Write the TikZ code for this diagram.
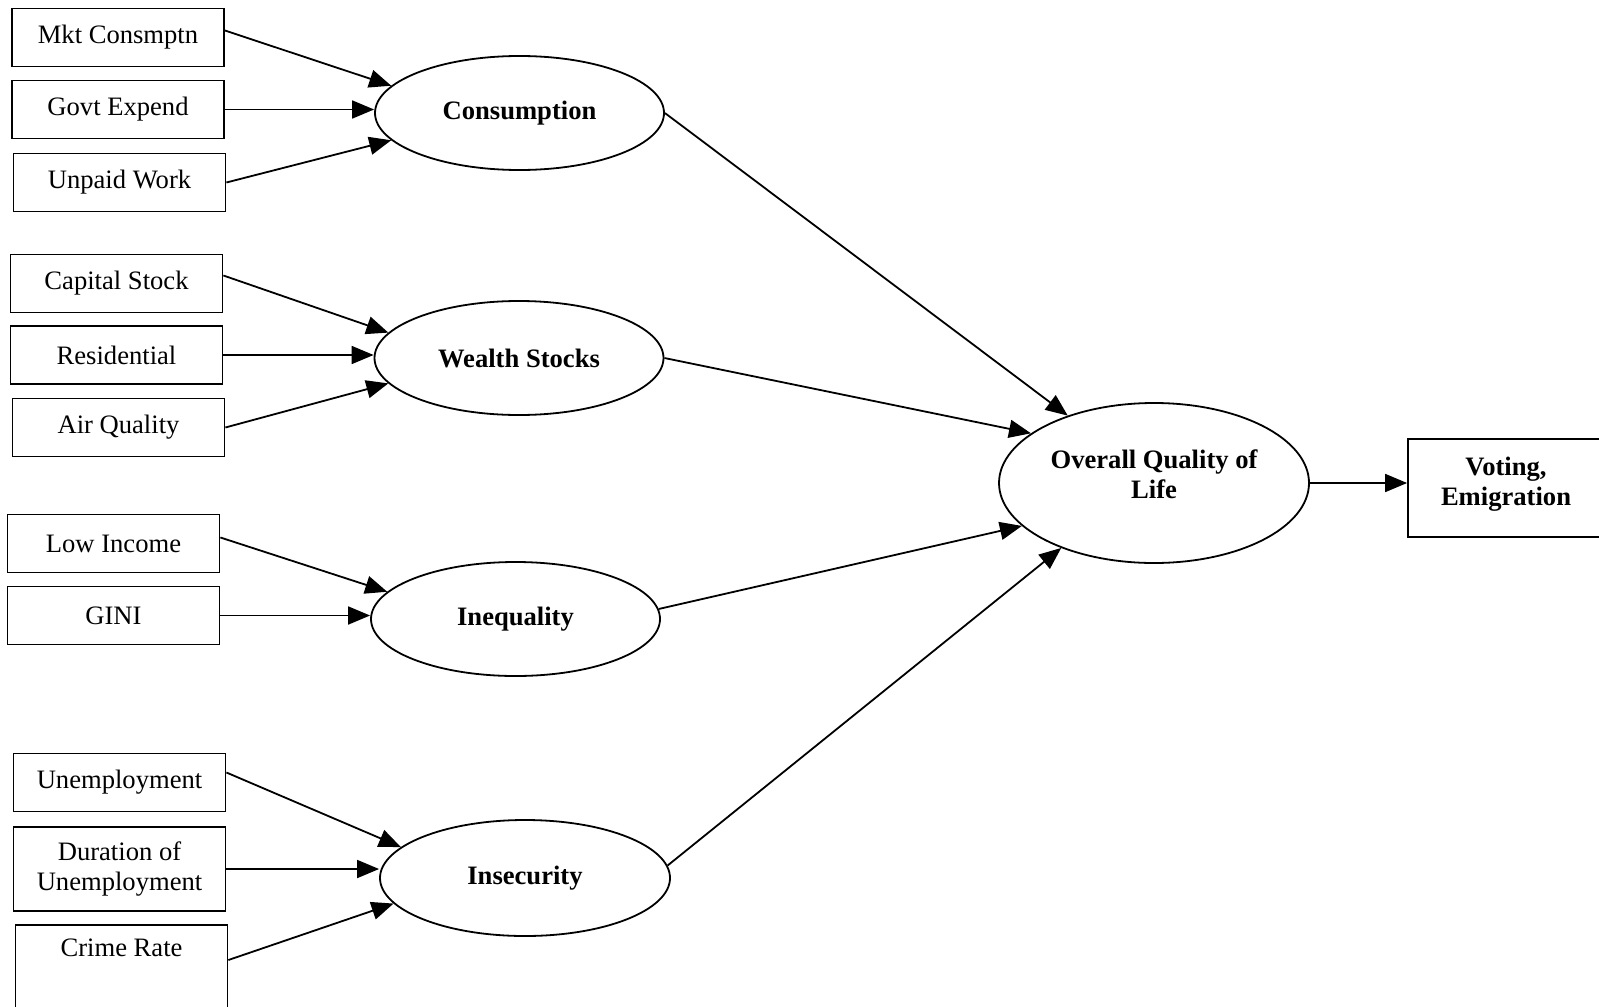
\documentclass[tikz,border=0pt]{standalone}
\usepackage{fontspec}
\setmainfont{Liberation Serif}
\usetikzlibrary{arrows.meta,shapes.geometric}
\newcommand\dfont{\fontsize{13.3}{15}\selectfont}
\tikzset{
  ind/.style={draw,line width=0.9pt,rectangle,minimum width=106pt,minimum height=29pt,inner sep=0pt,align=center,font=\dfont},
  lat/.style={draw,line width=0.9pt,ellipse,minimum width=144.5pt,minimum height=57pt,inner sep=0pt,align=center,font=\dfont\bfseries},
  arr/.style={line width=0.9pt,-{Triangle[length=11pt,width=9pt]}}
}
\begin{document}
\begin{tikzpicture}[x=0.5pt,y=-0.5pt]
\useasboundingbox (0,0) rectangle (1599,1006);
\node[ind] (mkt) at (118,37.5) {Mkt Consmptn};
\node[ind] (govt) at (118,109.5) {Govt Expend};
\node[ind] (unpaid) at (119.5,182.5) {Unpaid Work};
\node[ind] (capital) at (116.5,283.5) {Capital Stock};
\node[ind] (resid) at (116.5,355) {Residential};
\node[ind] (air) at (118.5,427.5) {Air Quality};
\node[ind] (lowinc) at (113.5,543.5) {Low Income};
\node[ind] (gini) at (113.5,615.5) {GINI};
\node[ind] (unemp) at (119.5,782.5) {Unemployment};
\node[ind,minimum height=42pt] (durat) at (119.5,869) {Duration of\\Unemployment};
\node[ind,minimum height=42pt] (crime) at (121.5,967) {Crime Rate\\\strut};
\node[lat] (cons) at (519.5,113) {Consumption};
\node[lat] (wealth) at (519,358) {Wealth Stocks};
\node[lat] (ineq) at (515.5,619) {Inequality};
\node[lat,minimum width=145pt,minimum height=58pt] (insec) at (525,878) {Insecurity};
\node[lat,minimum width=155pt,minimum height=80pt,text depth=9pt] (qol) at (1154,483) {Overall Quality of\\Life};
\node[ind,font=\dfont\bfseries,minimum width=98pt,minimum height=49pt,text depth=7pt] (vote) at (1506,488) {Voting,\\Emigration};
\draw[arr] ([yshift=3.5pt]mkt.east) -- (cons.168);
\draw[arr] (govt.east) -- (govt.east -| cons.west);
\draw[arr] (unpaid.east) -- (cons.192);
\draw[arr] ([yshift=4pt]capital.east) -- (wealth.169);
\draw[arr] (resid.east) -- (resid.east -| wealth.west);
\draw[arr] (air.east) -- (wealth.191);
\draw[arr] ([yshift=3pt]lowinc.east) -- (ineq.168);
\draw[arr] (gini.east) -- (gini.east -| ineq.west);
\draw[arr] ([yshift=5pt]unemp.east) -- (insec.166);
\draw[arr] (durat.east) -- (durat.east -| insec.west);
\draw[arr] ([yshift=3.5pt]crime.east) -- (insec.191);
\draw[arr] (cons.east) -- (qol.142);
\draw[arr] (wealth.east) -- (qol.158);
\draw[arr] (ineq.4) -- (qol.198);
\draw[arr] (insec.5) -- (qol.215);
\draw[arr] (qol.east) -- (qol.east -| vote.west);
\end{tikzpicture}
\end{document}
